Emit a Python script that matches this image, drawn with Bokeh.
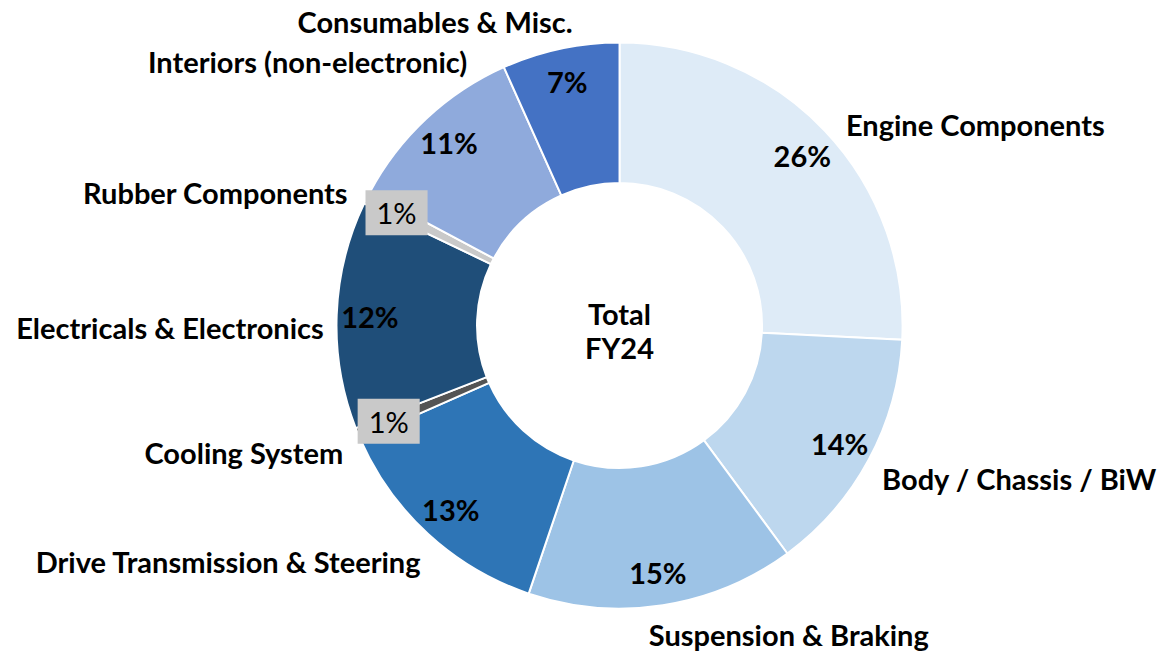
import math
from bokeh.plotting import figure
from bokeh.models import Range1d, ColumnDataSource
from bokeh.core.properties import value
from bokeh.embed import file_html
from bokeh.resources import INLINE

# ---------------- data ----------------
categories = ["Engine Components", "Body / Chassis / BiW", "Suspension & Braking",
              "Drive Transmission & Steering", "Cooling System", "Electricals & Electronics",
              "Rubber Components", "Interiors (non-electronic)", "Consumables & Misc."]
shares = [25.8, 14.1, 15.3, 13.2, 0.7, 13.0, 0.7, 10.5, 6.7]
pct_labels = ["26%", "14%", "15%", "13%", "1%", "12%", "1%", "11%", "7%"]
center_title = "Total\nFY24"

# ---------------- style / layout ----------------
colors = ["#DEEBF7", "#BDD7EE", "#9DC3E6", "#2E75B6", "#545454",
          "#1F4E79", "#C9C9C9", "#8FAADC", "#4472C4"]
boxed = [False, False, False, False, True, False, True, False, False]
W, H = 1159, 652
REF_W, REF_H = 1175, 668
S = H / REF_H                      # uniform scale, reference px -> screen px
XSPAN = W / S
X0 = REF_W / 2 - XSPAN / 2
CX, CY = 628, 335                  # centre (reference px, y up)
R_OUT, R_IN = 290, 146
R_PCT = 256
pct_angle_override = {0: 47.0}     # degrees clockwise from top
TITLE_DY = -5
# category label anchors: (dx, dy_down, align) relative to centre
cat_anchor = [(232, -206, "left"), (269, 157, "left"), (30, 317, "left"),
              (-203, 242, "right"), (-283, 130, "right"), (-303, 2, "right"),
              (-278, -136, "right"), (-156, -271, "right"), (-48, -311, "right")]
FONT = "Lato"
FS = "29px"

p = figure(width=W, height=H, x_range=Range1d(X0, X0 + XSPAN), y_range=Range1d(0, REF_H),
           x_axis_location=None, y_axis_location=None, toolbar_location=None,
           output_backend="svg", min_border=0, outline_line_color=None)
p.grid.visible = False

total = sum(shares)
starts, ends, mids = [], [], []
acc = 0.0
for s in shares:
    a0 = acc / total * 360.0
    acc += s
    a1 = acc / total * 360.0
    starts.append(a0); ends.append(a1); mids.append((a0 + a1) / 2)

src = ColumnDataSource(dict(
    x=[CX] * len(shares), y=[CY] * len(shares),
    start=[math.radians(90 - e) for e in ends],
    end=[math.radians(90 - s) for s in starts],
    color=colors))
p.annular_wedge(x="x", y="y", inner_radius=R_IN, outer_radius=R_OUT,
                start_angle="start", end_angle="end", fill_color="color",
                line_color="white", line_width=2, source=src)

# percentage labels
bx, by, bt, nx, ny, nt = [], [], [], [], [], []
for i, m in enumerate(mids):
    ang = pct_angle_override.get(i, m)
    x = CX + R_PCT * math.sin(math.radians(ang))
    y = CY + R_PCT * math.cos(math.radians(ang))
    if boxed[i]:
        bx.append(x); by.append(y); bt.append(pct_labels[i])
    else:
        nx.append(x); ny.append(y); nt.append(pct_labels[i])
p.text(nx, ny, text=nt, text_font=value(FONT), text_font_style="bold",
       text_font_size=FS, text_align="center", text_baseline="middle", text_color="black")
p.text(bx, by, text=bt, text_font=value(FONT), text_font_style="normal",
       text_font_size=FS, text_align="center", text_baseline="middle", text_color="black",
       background_fill_color="#C9C9C9",
       padding=dict(left=11, right=11, top=5, bottom=5))

# category labels
for i, c in enumerate(categories):
    dx, dy, al = cat_anchor[i]
    p.text([CX + dx], [CY - dy], text=[c], text_font=value(FONT), text_font_style="bold",
           text_font_size=FS, text_align=al, text_baseline="middle", text_color="black")

# centre title
p.text([CX], [CY + TITLE_DY], text=[center_title], text_font=value(FONT), text_font_style="bold",
       text_font_size=FS, text_align="center", text_baseline="middle",
       text_line_height=0.97, text_color="black")

open("out.html", "w").write(file_html(p, INLINE))
